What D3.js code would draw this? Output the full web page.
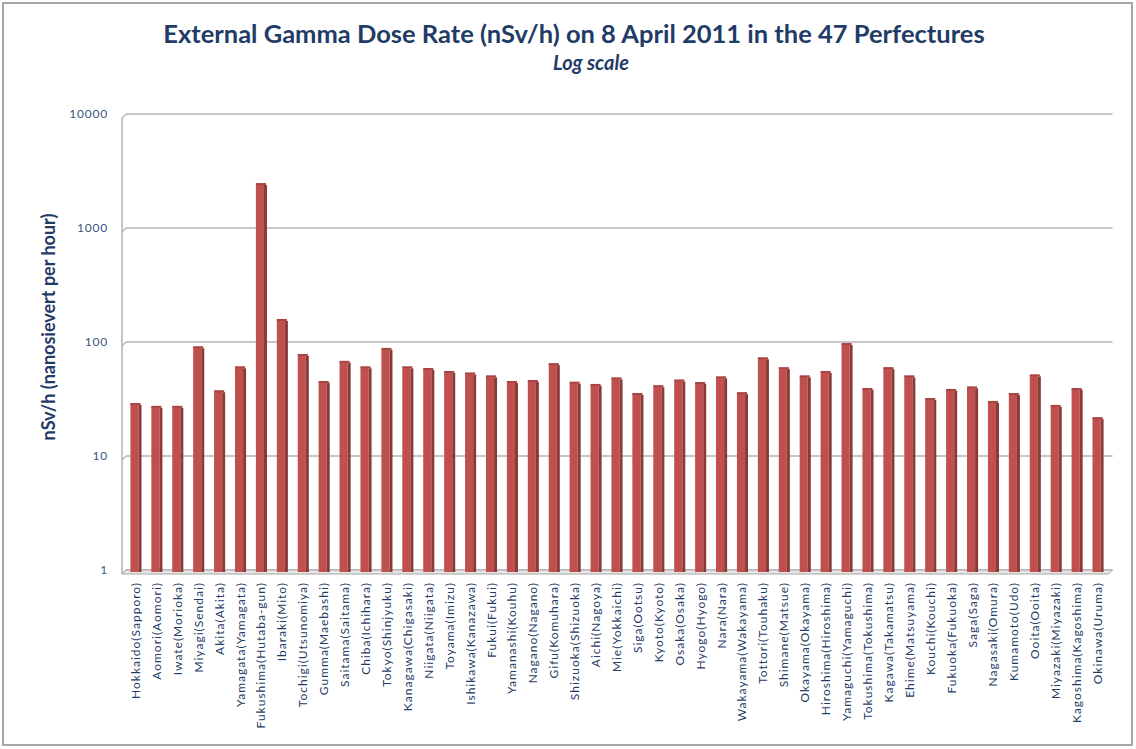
<!DOCTYPE html>
<html lang="en">
<head>
  <meta charset="UTF-8" />
  <title>External Gamma Dose Rate</title>
  <script src="https://d3js.org/d3.v7.js"></script>
  <style>
    body { margin: 0; background: #fff; }
    svg { font-family: Lato, "Open Sans", sans-serif; }
  </style>
</head>
<body>
  <div id="graph-space"></div>
<script>
  // Data
  const prefectures = ["Hokkaido(Sapporo)", "Aomori(Aomori)", "Iwate(Morioka)", "Miyagi(Sendai)", "Akita(Akita)",
    "Yamagata(Yamagata)", "Fukushima(Hutaba-gun)", "Ibaraki(Mito)", "Tochigi(Utsunomiya)", "Gumma(Maebashi)",
    "Saitama(Saitama)", "Chiba(Ichihara)", "Tokyo(Shinjyuku)", "Kanagawa(Chigasaki)", "Niigata(Niigata)",
    "Toyama(Imizu)", "Ishikawa(Kanazawa)", "Fukui(Fukui)", "Yamanashi(Kouhu)", "Nagano(Nagano)",
    "Gifu(Komuhara)", "Shizuoka(Shizuoka)", "Aichi(Nagoya)", "Mie(Yokkaichi)", "Siga(Ootsu)",
    "Kyoto(Kyoto)", "Osaka(Osaka)", "Hyogo(Hyogo)", "Nara(Nara)", "Wakayama(Wakayama)",
    "Tottori(Touhaku)", "Shimane(Matsue)", "Okayama(Okayama)", "Hiroshima(Hiroshima)", "Yamaguchi(Yamaguchi)",
    "Tokushima(Tokushima)", "Kagawa(Takamatsu)", "Ehime(Matsuyama)", "Kouchi(Kouchi)", "Fukuoka(Fukuoka)",
    "Saga(Saga)", "Nagasaki(Omura)", "Kumamoto(Udo)", "Ooita(Ooita)", "Miyazaki(Miyazaki)",
    "Kagoshima(Kagoshima)", "Okinawa(Uruma)"]
  const doseRate = [28.6, 27, 27, 90, 37, 60, 2430, 156, 77, 44.6,
    67, 60, 87, 60, 58, 54.6, 53, 50, 44.6, 45.5,
    64, 44, 42, 48, 35, 41, 46, 43.7, 49, 35.6,
    72, 59, 50, 54.6, 96, 38.7, 59, 50, 31.6, 38,
    40, 29.8, 35, 51, 27.5, 38.7, 21.5]
  const yTicks = [1, 10, 100, 1000, 10000]

  const titleText = "External Gamma Dose Rate (nSv/h) on 8 April 2011 in the 47 Perfectures"
  const subtitleText = "Log scale"
  const yAxisLabel = "nSv/h (nanosievert per hour)"

  const data = prefectures.map((p, i) => ({ name: p, value: doseRate[i] }))

  const width = 1136
  const height = 749
  const margin = { left: 125.5, top: 114, right: 27.5, bottom: 179 }
  const textColor = "#1f3b66"

  const svg = d3.select("#graph-space")
    .append("svg")
    .attr("width", width)
    .attr("height", height)

  // outer frame
  svg.append("rect")
    .attr("x", 3).attr("y", 3)
    .attr("width", width - 7).attr("height", height - 7)
    .attr("fill", "none")
    .attr("stroke", "#a6a6a6")
    .attr("stroke-width", 2)

  const xScale = d3.scaleBand()
    .domain(prefectures)
    .range([margin.left, width - margin.right])
    .paddingInner(0.47)
    .paddingOuter(0.235)

  const yScale = d3.scaleLog()
    .domain([1, 10000])
    .range([height - margin.bottom, margin.top])

  // gridlines with a small 3D offset at the left wall
  const wallX = 122
  const depth = 4
  const grid = svg.append("g")
  grid.selectAll("line.grid")
    .data(yTicks)
    .join("line")
    .attr("class", "grid")
    .attr("x1", wallX + depth).attr("x2", width - margin.right + 4)
    .attr("y1", d => yScale(d)).attr("y2", d => yScale(d))
    .attr("stroke", "#b3b3b3")
    .attr("stroke-width", 1.5)
  grid.selectAll("line.diag")
    .data(yTicks)
    .join("line")
    .attr("class", "diag")
    .attr("x1", wallX).attr("x2", wallX + depth)
    .attr("y1", d => yScale(d) + depth).attr("y2", d => yScale(d))
    .attr("stroke", "#b3b3b3")
    .attr("stroke-width", 1.2)
  // left wall
  grid.append("line")
    .attr("x1", wallX).attr("x2", wallX)
    .attr("y1", yScale(10000) + depth).attr("y2", yScale(1) + depth)
    .attr("stroke", "#b3b3b3")
    .attr("stroke-width", 1.5)
  // floor
  const y0 = yScale(1)
  grid.append("path")
    .attr("d", `M${wallX},${y0 + depth}L${wallX + depth},${y0}L${width - margin.right + 4},${y0}L${width - margin.right},${y0 + depth}Z`)
    .attr("fill", "#e6e6e6")
    .attr("stroke", "#a6a6a6")
    .attr("stroke-width", 1)

  // bars with a darker side face
  const bw = xScale.bandwidth()
  const side = 3
  const bars = svg.append("g").selectAll("g")
    .data(data)
    .join("g")
  bars.append("rect")
    .attr("x", d => xScale(d.name))
    .attr("y", d => yScale(d.value))
    .attr("width", bw - side)
    .attr("height", d => y0 + 2 - yScale(d.value))
    .attr("fill", "#c0504d")
  bars.append("rect")
    .attr("x", d => xScale(d.name) + bw - side)
    .attr("y", d => yScale(d.value) + 1)
    .attr("width", side)
    .attr("height", d => y0 + 1 - yScale(d.value))
    .attr("fill", "#8c3a38")
  bars.append("rect")
    .attr("x", d => xScale(d.name))
    .attr("y", d => yScale(d.value) - 1)
    .attr("width", bw - 1)
    .attr("height", 2)
    .attr("fill", "#a84542")

  // y axis tick labels
  svg.append("g").selectAll("text")
    .data(yTicks)
    .join("text")
    .attr("x", 108)
    .attr("y", d => yScale(d) + 4)
    .attr("text-anchor", "end")
    .attr("font-size", 12)
    .attr("letter-spacing", 0.8)
    .attr("fill", "#3a5580")
    .text(d => d)

  // x labels, rotated
  svg.append("g").selectAll("text")
    .data(prefectures)
    .join("text")
    .attr("transform", d => `translate(${xScale(d) + bw / 2 + 4},582) rotate(-90)`)
    .attr("text-anchor", "end")
    .attr("font-size", 12)
    .attr("letter-spacing", 1)
    .attr("fill", textColor)
    .text(d => d)

  // titles
  svg.append("text")
    .attr("x", 574).attr("y", 43)
    .attr("text-anchor", "middle")
    .attr("font-size", 25.5)
    .attr("font-weight", "bold")
    .attr("fill", textColor)
    .text(titleText)
  svg.append("text")
    .attr("x", 591).attr("y", 70)
    .attr("text-anchor", "middle")
    .attr("font-size", 20)
    .attr("font-weight", "bold")
    .attr("font-style", "italic")
    .attr("fill", textColor)
    .text(subtitleText)

  svg.append("text")
    .attr("transform", "translate(55,327) rotate(-90)")
    .attr("text-anchor", "middle")
    .attr("font-size", 18)
    .attr("font-weight", "bold")
    .attr("fill", textColor)
    .text(yAxisLabel)
</script>
</body>
</html>
